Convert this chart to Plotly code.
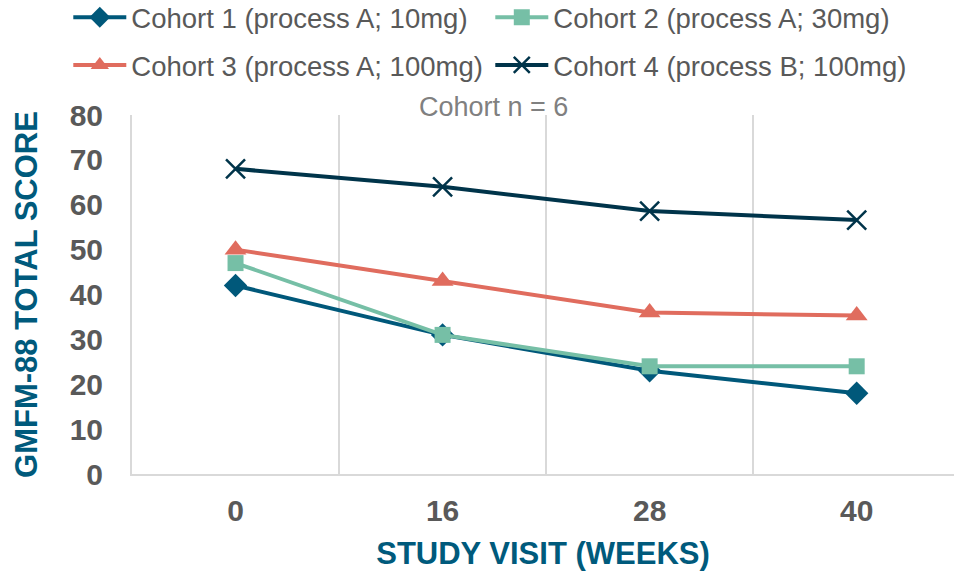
import plotly.graph_objects as go

weeks = ["0", "16", "28", "40"]
cohort1 = [42, 31, 23, 18]
cohort2 = [47, 31, 24, 24]
cohort3 = [50, 43, 36, 35.3]
cohort4 = [68, 64, 58.6, 56.6]
names = ["Cohort 1 (process A; 10mg)", "Cohort 2 (process A; 30mg)",
         "Cohort 3 (process A; 100mg)", "Cohort 4 (process B; 100mg)"]

colors = ["#00587A", "#76BFA6", "#E06C5E", "#00344A"]
symbols = ["diamond", "square", "triangle-up", "x-thin"]
sizes = [18, 16, 19, 19]
legends = ["legend", "legend", "legend2", "legend2"]

FONT = "Liberation Sans, Arial, sans-serif"

fig = go.Figure()
for vals, name, c, s, sz, lg in zip([cohort1, cohort2, cohort3, cohort4], names, colors, symbols, sizes, legends):
    marker = dict(symbol=s, size=sz, color=c)
    if s == "x-thin":
        marker["line"] = dict(color=c, width=2.5)
    fig.add_trace(go.Scatter(x=weeks, y=vals, name=name, mode="lines+markers",
                             line=dict(color=c, width=4), marker=marker, legend=lg))

legend_common = dict(orientation="h", xanchor="left", yanchor="middle",
                     font=dict(family=FONT, size=27.5, color="#595959"),
                     entrywidth=354, entrywidthmode="pixels", itemwidth=53,
                     bgcolor="rgba(0,0,0,0)", borderwidth=0)

fig.update_layout(
    width=954, height=571,
    margin=dict(l=132, r=0, t=115, b=97, autoexpand=False),
    paper_bgcolor="white", plot_bgcolor="white",
    font=dict(family=FONT, color="#595959"),
    legend=dict(x=-0.0775, y=1.272, **legend_common),
    legend2=dict(x=-0.0775, y=1.139, **legend_common),
    xaxis=dict(type="category", range=[-0.5, 3.47], tickson="boundaries",
               showgrid=True, gridcolor="#D9D9D9", gridwidth=2,
               showline=True, linecolor="#D9D9D9", linewidth=2,
               ticks="", ticklabelstandoff=9,
               tickfont=dict(size=30, color="#595959", family=FONT, weight="bold"),
               title=dict(text="STUDY VISIT (WEEKS)", standoff=16,
                          font=dict(size=31, color="#005A7C", family=FONT, weight="bold"))),
    yaxis=dict(range=[0, 80], dtick=10, showgrid=False, zeroline=False,
               showline=True, linecolor="#D9D9D9", linewidth=2,
               ticks="", ticklabelstandoff=21,
               tickfont=dict(size=30, color="#595959", family=FONT, weight="bold"),
               title=dict(text="GMFM-88 TOTAL SCORE", standoff=23,
                          font=dict(size=31, color="#005A7C", family=FONT, weight="bold"))),
    annotations=[dict(text="Cohort n = 6", xref="paper", yref="paper", x=0.44, y=1.022,
                      xanchor="center", yanchor="middle", showarrow=False,
                      font=dict(size=27, color="#808080", family=FONT))],
)

fig.write_html("out.html", config={"displayModeBar": False},
               post_script="document.body.style.margin='0px';")
